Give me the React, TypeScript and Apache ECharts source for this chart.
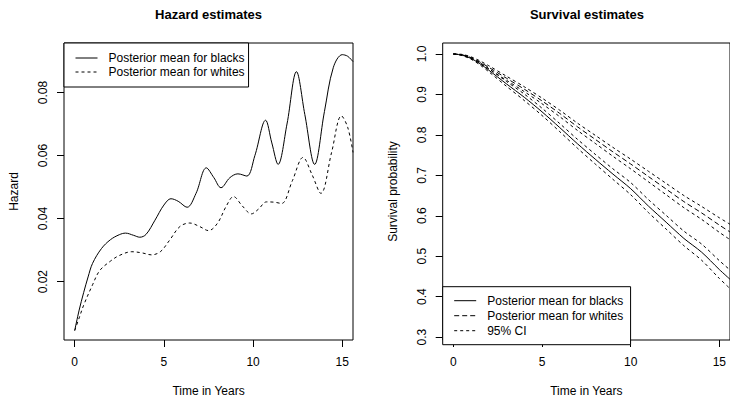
import React, { useEffect, useRef } from "react";
import * as echarts from "echarts";

// ---- Hazard estimates (left panel) ----
const hazardTimeBlacks = [0, 0.25, 0.5, 0.75, 1.0, 1.5, 2.0, 2.5, 2.85, 3.3, 3.65, 4.0, 4.5, 5.0, 5.4, 5.8, 6.3, 6.8, 7.38, 7.8, 8.2, 8.7, 9.15, 9.65, 10.1, 10.7, 11.05, 11.4, 11.9, 12.43, 12.9, 13.45, 14.0, 14.5, 15.0, 15.3, 15.6];
const hazardBlacks = [0.0045, 0.011, 0.0165, 0.0215, 0.0258, 0.0305, 0.0333, 0.0349, 0.0354, 0.0347, 0.0341, 0.035, 0.0395, 0.0443, 0.0463, 0.0455, 0.0436, 0.048, 0.0561, 0.053, 0.0498, 0.053, 0.0542, 0.0535, 0.06, 0.0712, 0.064, 0.0572, 0.07, 0.0866, 0.073, 0.0572, 0.074, 0.088, 0.092, 0.0915, 0.0898];
const hazardTimeWhites = [0, 0.25, 0.5, 1.0, 1.4, 2.0, 2.5, 3.2, 3.8, 4.3, 4.8, 5.3, 5.9, 6.45, 7.0, 7.5, 8.0, 8.5, 8.9, 9.4, 9.9, 10.3, 10.75, 11.2, 11.6, 12.2, 12.8, 13.3, 13.8, 14.4, 14.95, 15.3, 15.6];
const hazardWhites = [0.0045, 0.0085, 0.0125, 0.019, 0.0235, 0.0265, 0.0283, 0.0295, 0.0291, 0.0285, 0.0295, 0.033, 0.0375, 0.0386, 0.0375, 0.0362, 0.0385, 0.044, 0.047, 0.044, 0.0415, 0.043, 0.0453, 0.0452, 0.0448, 0.052, 0.0594, 0.054, 0.048, 0.061, 0.0726, 0.069, 0.061];

// ---- Survival estimates (right panel) ----
const survTime = [0, 0.5, 1, 1.5, 2, 3, 4, 5, 6, 7, 8, 9, 10, 11, 12, 13, 14, 15, 15.6];
const survBlacks = [1.0, 0.997, 0.989, 0.976, 0.96, 0.926, 0.893, 0.857, 0.818, 0.778, 0.74, 0.703, 0.667, 0.624, 0.584, 0.544, 0.51, 0.467, 0.443];
const survBlacksUpper = [1.0, 0.998, 0.991, 0.979, 0.964, 0.932, 0.901, 0.866, 0.828, 0.789, 0.752, 0.716, 0.682, 0.64, 0.601, 0.562, 0.53, 0.489, 0.466];
const survBlacksLower = [1.0, 0.996, 0.987, 0.973, 0.956, 0.92, 0.885, 0.848, 0.808, 0.767, 0.728, 0.69, 0.652, 0.608, 0.567, 0.526, 0.49, 0.445, 0.42];
const survWhites = [1.0, 0.998, 0.991, 0.98, 0.967, 0.94, 0.913, 0.884, 0.853, 0.82, 0.789, 0.758, 0.728, 0.697, 0.666, 0.635, 0.607, 0.577, 0.56];
const survWhitesUpper = [1.0, 0.999, 0.993, 0.983, 0.971, 0.945, 0.919, 0.891, 0.861, 0.829, 0.799, 0.769, 0.74, 0.71, 0.68, 0.65, 0.623, 0.595, 0.579];
const survWhitesLower = [1.0, 0.997, 0.989, 0.977, 0.963, 0.935, 0.907, 0.877, 0.845, 0.811, 0.779, 0.747, 0.716, 0.684, 0.652, 0.62, 0.591, 0.559, 0.541];

// ---- Tick labels ----
const xTicks = [0, 5, 10, 15];
const hazardTicks = [0.02, 0.04, 0.06, 0.08];
const survTicks = [0.3, 0.4, 0.5, 0.6, 0.7, 0.8, 0.9, 1.0];

const FONT = "Liberation Sans, Arial, Helvetica, sans-serif";
const zip = (xs: number[], ys: number[]) => xs.map((x, i) => [x, ys[i]]);

const DOTTED = [3, 3];
const DASHED = [5, 3];

export default function App() {
  const ref = useRef<HTMLDivElement>(null);
  useEffect(() => {
    if (!ref.current) return;
    const chart = echarts.init(ref.current, null, { renderer: "svg" });
    const textBase = { color: "#000", fontFamily: FONT, fontSize: 12 };
    const xAxisCommon = (gridIndex: number) => ({
      type: "value",
      gridIndex,
      min: -0.6,
      max: 15.6,
      axisLine: { show: false, onZero: false },
      splitLine: { show: false },
      axisTick: { show: true, inside: false, length: 7, customValues: xTicks, lineStyle: { color: "#000", width: 1 } },
      axisLabel: { ...textBase, margin: 16, customValues: xTicks, formatter: (v: number) => String(v) },
      name: "Time in Years",
      nameLocation: "middle",
      nameGap: 45,
      nameTextStyle: { ...textBase },
    });
    const lineSeries = (name: string, data: number[][], type: any, xi: number, smooth: number) => ({
      type: "line",
      name,
      xAxisIndex: xi,
      yAxisIndex: xi,
      data,
      smooth,
      symbol: "none",
      clip: true,
      lineStyle: { color: "#000", width: 1, type },
      itemStyle: { color: "#000" },
      emphasis: { disabled: true },
    });
    const legendCommon = {
      orient: "vertical",
      itemWidth: 22,
      itemHeight: 12,
      borderColor: "#000",
      borderWidth: 1,
      borderRadius: 0,
      backgroundColor: "#fff",
      selectedMode: false,
      itemStyle: { color: "rgba(0,0,0,0)", borderWidth: 0, opacity: 0 },
      textStyle: { ...textBase, padding: [0, 0, 0, 6] },
    };
    chart.setOption({
      animation: false,
      title: [
        { text: "Hazard estimates", left: 208.5, top: 8, textAlign: "center", padding: 0, textStyle: { ...textBase, fontSize: 13, fontWeight: "bold" } },
        { text: "Survival estimates", left: 587, top: 8, textAlign: "center", padding: 0, textStyle: { ...textBase, fontSize: 13, fontWeight: "bold" } },
      ],
      grid: [
        { left: 64, top: 43, width: 289, height: 301, show: true, borderColor: "#000", borderWidth: 1, backgroundColor: "transparent", containLabel: false },
        { left: 442.7, top: 43, width: 288.7, height: 301, show: true, borderColor: "#000", borderWidth: 1, backgroundColor: "transparent", containLabel: false },
      ],
      xAxis: [xAxisCommon(0), xAxisCommon(1)],
      yAxis: [
        {
          type: "value",
          gridIndex: 0,
          min: 0.0015,
          max: 0.0957,
          axisLine: { show: false, onZero: false },
          splitLine: { show: false },
          axisTick: { show: true, inside: false, length: 7, customValues: hazardTicks, lineStyle: { color: "#000", width: 1 } },
          axisLabel: { ...textBase, rotate: 90, margin: 15, customValues: hazardTicks, formatter: (v: number) => v.toFixed(2) },
          name: "Hazard",
          nameLocation: "middle",
          nameRotate: 90,
          nameGap: 44,
          nameTextStyle: { ...textBase },
        },
        {
          type: "value",
          gridIndex: 1,
          min: 0.2928,
          max: 1.0272,
          axisLine: { show: false, onZero: false },
          splitLine: { show: false },
          axisTick: { show: true, inside: false, length: 7, customValues: survTicks, lineStyle: { color: "#000", width: 1 } },
          axisLabel: { ...textBase, rotate: 90, margin: 15, customValues: survTicks, formatter: (v: number) => v.toFixed(1) },
          name: "Survival probability",
          nameLocation: "middle",
          nameRotate: 90,
          nameGap: 44,
          nameTextStyle: { ...textBase },
        },
      ],
      legend: [
        {
          ...legendCommon,
          left: 64,
          top: 43,
          padding: [9, 4, 9, 11],
          itemGap: 2,
          data: [
            { name: "Posterior mean for blacks", lineStyle: { type: "solid", width: 1, color: "#000" } },
            { name: "Posterior mean for whites", lineStyle: { type: DOTTED, width: 1, color: "#000" } },
          ],
        },
        {
          ...legendCommon,
          left: 442.7,
          top: 286.7,
          padding: [8, 4, 8, 11],
          itemGap: 3,
          data: [
            { name: "Posterior mean for blacks", lineStyle: { type: "solid", width: 1, color: "#000" } },
            { name: "Posterior mean for whites ", lineStyle: { type: DASHED, width: 1, color: "#000" } },
            { name: "95% CI", lineStyle: { type: DOTTED, width: 1, color: "#000" } },
          ],
        },
      ],
      series: [
        lineSeries("Posterior mean for blacks", zip(hazardTimeBlacks, hazardBlacks), "solid", 0, 0.35),
        lineSeries("Posterior mean for whites", zip(hazardTimeWhites, hazardWhites), DOTTED, 0, 0.35),
        lineSeries("Posterior mean for blacks", zip(survTime, survBlacks), "solid", 1, 0.3),
        lineSeries("Posterior mean for whites ", zip(survTime, survWhites), DASHED, 1, 0.3),
        lineSeries("95% CI", zip(survTime, survBlacksUpper), DOTTED, 1, 0.3),
        lineSeries("95% CI", zip(survTime, survBlacksLower), DOTTED, 1, 0.3),
        lineSeries("95% CI", zip(survTime, survWhitesUpper), DOTTED, 1, 0.3),
        lineSeries("95% CI", zip(survTime, survWhitesLower), DOTTED, 1, 0.3),
      ],
    });
    return () => chart.dispose();
  }, []);
  return <div ref={ref} style={{ position: "absolute", left: 0, top: 0, width: 730, height: 402 }} />;
}
